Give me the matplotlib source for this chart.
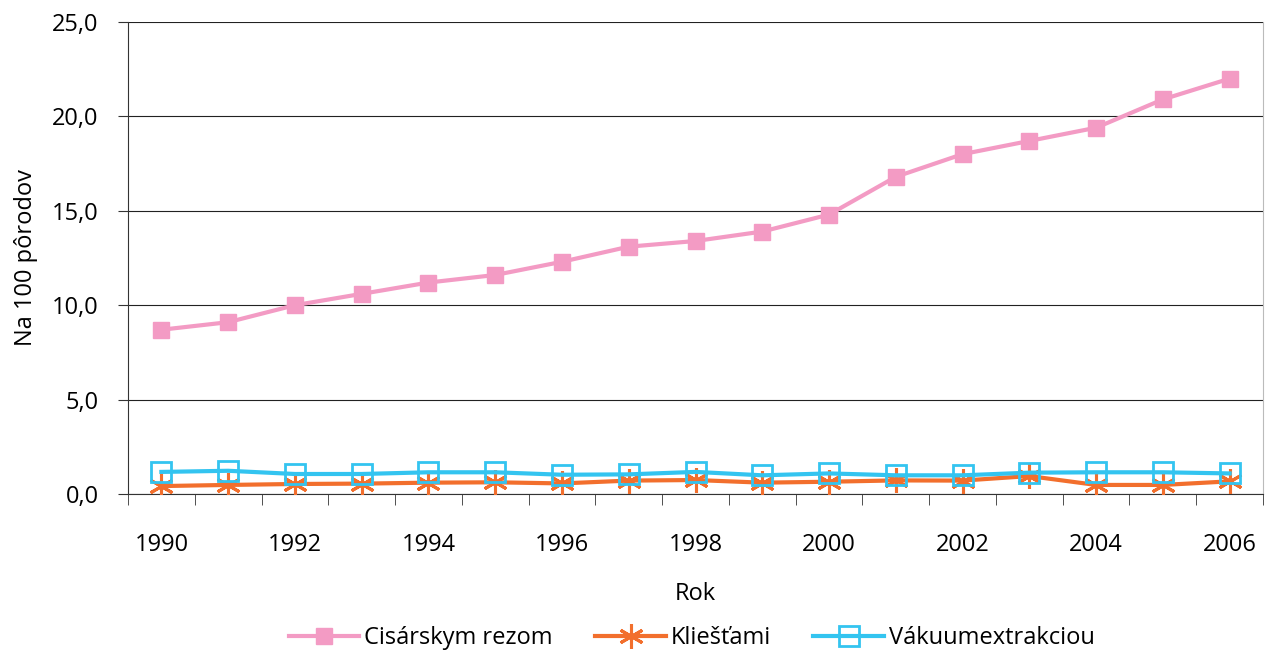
import matplotlib.pyplot as plt
import numpy as np

plt.rcParams['font.family'] = ['Open Sans', 'DejaVu Sans']

roky = list(range(1990, 2007))
cisarsky = [8.7, 9.1, 10.0, 10.6, 11.2, 11.6, 12.3, 13.1, 13.4, 13.9,
            14.8, 16.8, 18.0, 18.7, 19.4, 20.9, 22.0]
kliestami = [0.42, 0.48, 0.53, 0.55, 0.60, 0.62, 0.56, 0.71, 0.74, 0.60,
             0.65, 0.72, 0.71, 0.95, 0.48, 0.48, 0.67]
vakuum = [1.17, 1.23, 1.06, 1.06, 1.15, 1.15, 1.02, 1.04, 1.17, 0.99,
          1.09, 0.99, 0.99, 1.13, 1.15, 1.15, 1.09]

fig = plt.figure(figsize=(12.67, 6.55), dpi=100)
ax = fig.add_axes([128 / 1267, 1 - 494 / 655, 1135 / 1267, 472 / 655])

x = np.arange(len(roky))
ax.plot(x, cisarsky, color='#F39BC4', lw=3, marker='s', ms=11,
        mfc='#F39BC4', mec='#F39BC4', label='Cisárskym rezom', zorder=3)
ax.plot(x, kliestami, color='#F26F2D', lw=3, marker=(6, 2, 0), ms=18,
        mew=2.2, mec='#F26F2D', label='Kliešťami', zorder=3)
ax.plot(x, vakuum, color='#33C4F0', lw=3, marker='s', ms=14, mew=2,
        mfc='none', mec='#33C4F0', label='Vákuumextrakciou', zorder=4)

ax.set_xlim(-0.5, len(roky) - 0.5)
ax.set_ylim(0, 25)
ax.set_yticks(np.arange(0, 26, 5))
ax.set_yticklabels([('%.1f' % v).replace('.', ',') for v in np.arange(0, 26, 5)],
                   fontsize=17)
ax.set_xticks(x[::2])
ax.set_xticklabels([str(r) for r in roky[::2]], fontsize=17)
ax.set_xticks(np.arange(-0.5, len(roky), 1), minor=True)
ax.tick_params(axis='x', which='major', length=0, pad=28)
ax.tick_params(axis='x', which='minor', length=8, color='#333333')
ax.tick_params(axis='y', length=7, color='#333333', pad=14)
ax.grid(axis='y', color='#222222', lw=0.8)
ax.set_axisbelow(True)

ax.spines['top'].set_visible(False)
ax.spines['right'].set_color('#bbbbbb')
ax.spines['left'].set_color('#333333')
ax.spines['bottom'].set_color('#333333')

ax.set_xlabel('Rok', fontsize=17, labelpad=18)
ax.set_ylabel('Na 100 pôrodov', fontsize=17, labelpad=10)

fig.legend(loc='lower center', ncol=3, frameon=False, fontsize=17,
           bbox_to_anchor=(0.546, -0.025), handlelength=3.0,
           handletextpad=0.2, columnspacing=1.8)

fig.savefig('out.png', dpi=100)
